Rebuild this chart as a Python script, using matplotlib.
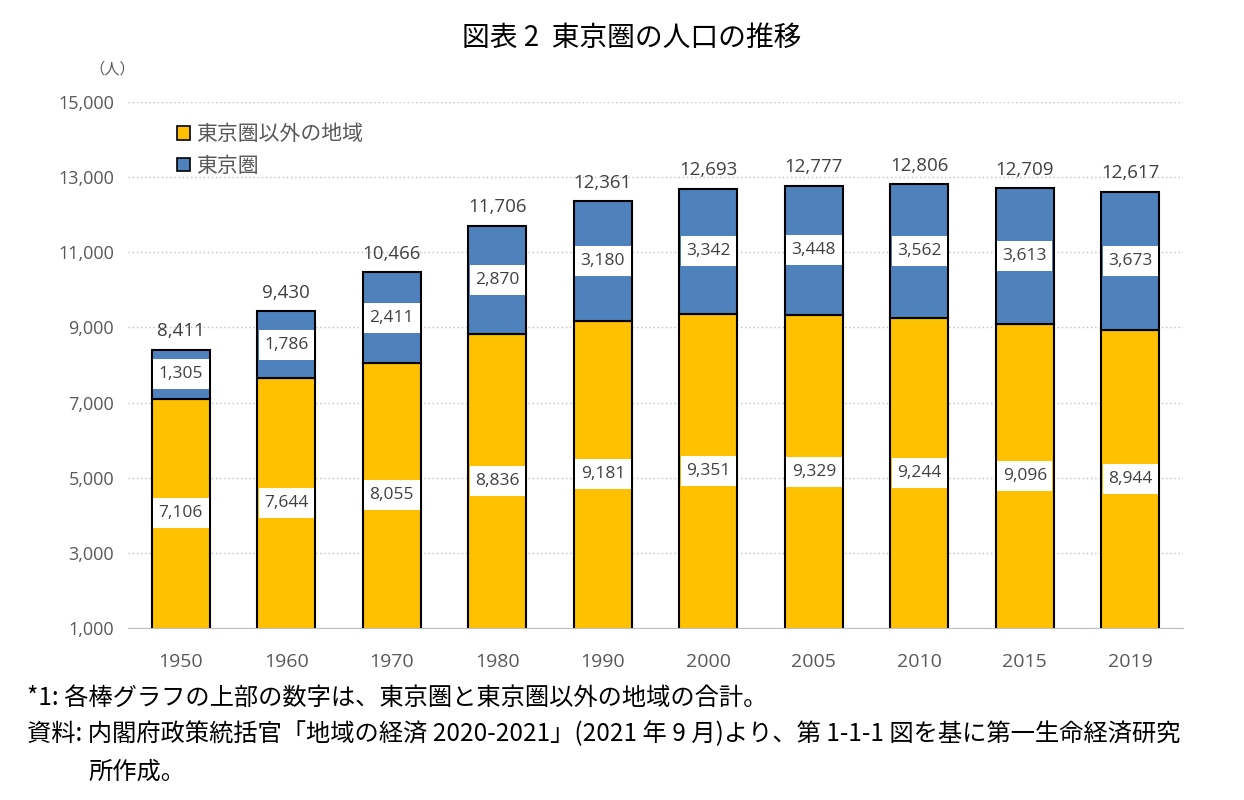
import matplotlib.pyplot as plt
from matplotlib.patches import Patch

plt.rcParams['font.family'] = ['Noto Sans CJK JP', 'DejaVu Sans']

years = ['1950', '1960', '1970', '1980', '1990', '2000', '2005', '2010', '2015', '2019']
outside = [7106, 7644, 8055, 8836, 9181, 9351, 9329, 9244, 9096, 8944]
tokyo = [1305, 1786, 2411, 2870, 3180, 3342, 3448, 3562, 3613, 3673]
totals = [8411, 9430, 10466, 11706, 12361, 12693, 12777, 12806, 12709, 12617]

yellow = '#FFC000'
blue = '#4F81BD'
gray = '#595959'
base = 1000
bw = 0.55
box_h = 800  # height of white label boxes, data units

fig = plt.figure(figsize=(12.44, 8), dpi=100)
ax = fig.add_axes([0.103, 0.215, 0.848, 0.6575])

x = list(range(len(years)))
ax.bar(x, outside, width=bw, color=yellow, edgecolor='black', linewidth=1.5, zorder=3)
ax.bar(x, tokyo, bottom=outside, width=bw, color=blue, edgecolor='black', linewidth=1.5, zorder=3)

for i in x:
    y1 = (base + outside[i]) / 2
    y2 = outside[i] + tokyo[i] / 2
    for yc, v in [(y1, outside[i]), (y2, tokyo[i])]:
        ax.bar(i, box_h, bottom=yc - box_h / 2, width=bw - 0.025, color='white',
               linewidth=0, zorder=4)
        ax.text(i, yc, f'{v:,}', ha='center', va='center', fontsize=12.5,
                color='#404040', family='Open Sans', zorder=5)
    ax.text(i, totals[i] + 250, f'{totals[i]:,}', ha='center', va='bottom',
            fontsize=13.5, color='#404040', family='Open Sans', zorder=5)

ax.set_xlim(-0.5, len(years) - 0.5)
ax.set_ylim(base, 15000)
ax.set_yticks(range(1000, 15001, 2000))
ax.set_yticklabels([f'{v:,}' for v in range(1000, 15001, 2000)], family='Open Sans')
ax.set_xticks(x)
ax.set_xticklabels(years, family='Open Sans', fontsize=14)
ax.tick_params(axis='y', length=0, labelsize=13, colors=gray, pad=10)
ax.tick_params(axis='x', length=0, colors=gray, pad=18)
ax.yaxis.grid(True, linestyle=(0, (1, 2)), color='#BFBFBF', linewidth=1, zorder=0)
for s in ['top', 'right', 'left']:
    ax.spines[s].set_visible(False)
ax.spines['bottom'].set_color('#BFBFBF')
ax.spines['bottom'].set_zorder(6)

handles = [Patch(facecolor=yellow, edgecolor='black', linewidth=1.2),
           Patch(facecolor=blue, edgecolor='black', linewidth=1.2)]
ax.legend(handles, ['東京圏以外の地域', '東京圏'], loc='upper left',
          bbox_to_anchor=(0.029, 0.995), frameon=False, fontsize=15,
          handlelength=0.6, handleheight=0.6, handletextpad=0.3,
          labelspacing=0.45, labelcolor=gray)

fig.text(0.072, 0.908, '（人）', fontsize=11, color=gray)
fig.text(0.508, 0.953, '図表 2  東京圏の人口の推移', ha='center', va='center', fontsize=20)

fs = 17.5
fig.text(0.022, 0.128, '*1: 各棒グラフの上部の数字は、東京圏と東京圏以外の地域の合計。', fontsize=fs, va='center')
fig.text(0.022, 0.082, '資料: 内閣府政策統括官「地域の経済 2020-2021」(2021 年 9 月)より、第 1-1-1 図を基に第一生命経済研究',
         fontsize=fs, va='center')
fig.text(0.071, 0.036, '所作成。', fontsize=fs, va='center')

fig.savefig('out.png', dpi=100)
